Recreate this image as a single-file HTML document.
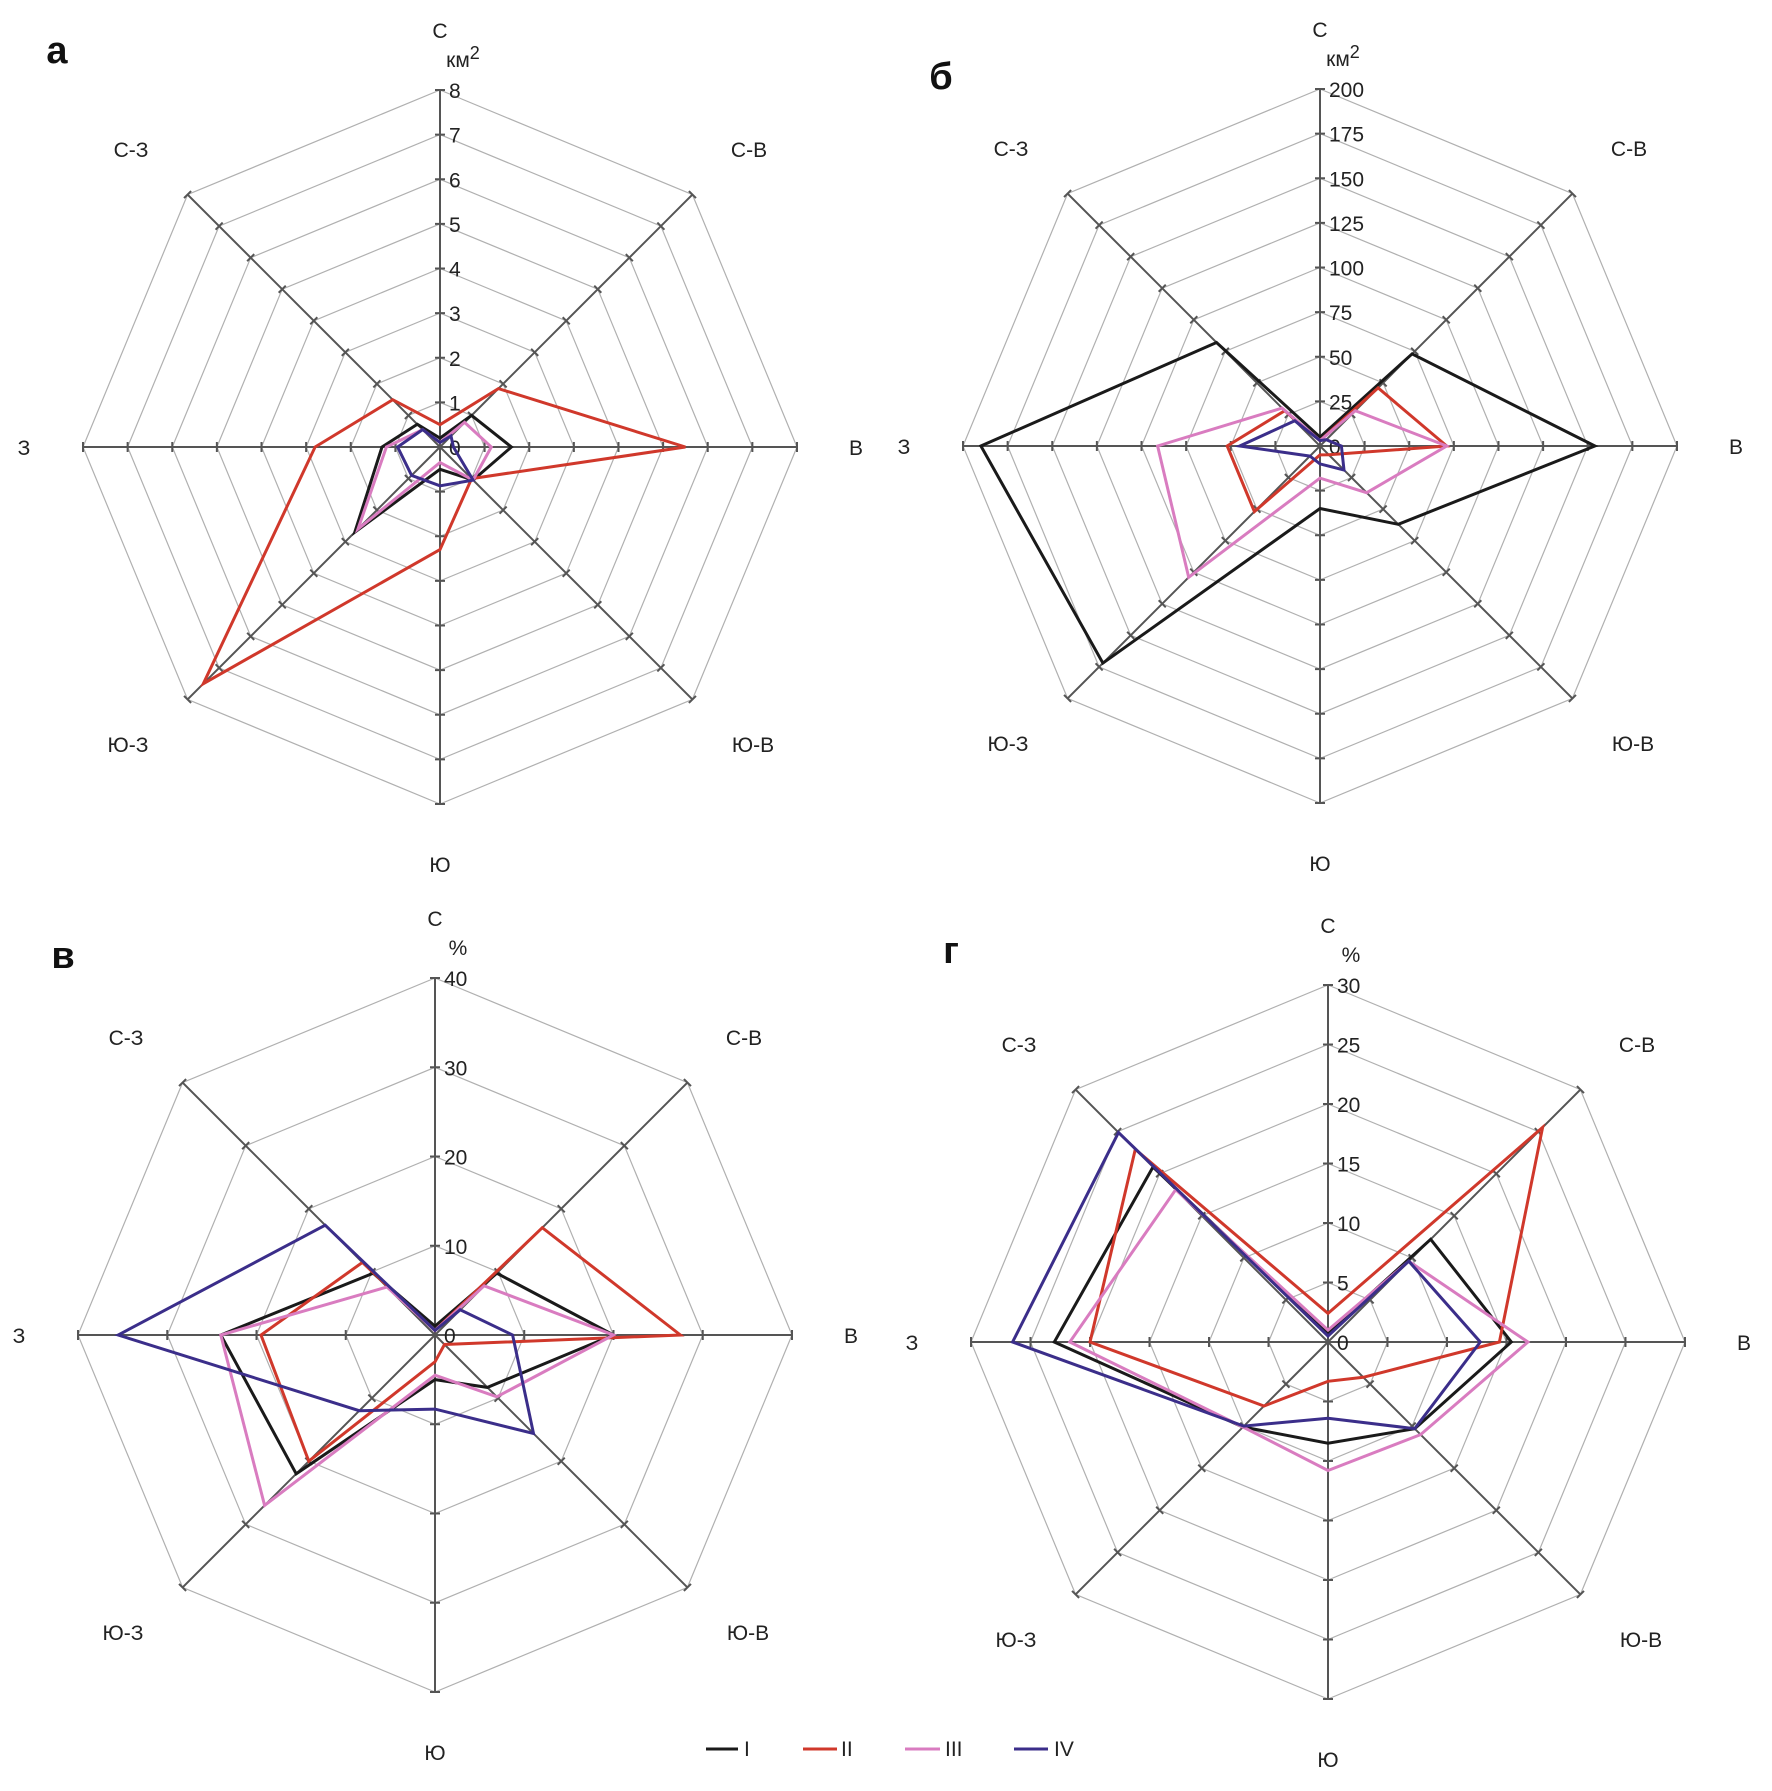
<!DOCTYPE html><html><head><meta charset="utf-8"><style>body{margin:0;background:#fff}svg{display:block}</style></head><body>
<svg id="s" width="1772" height="1791" xmlns="http://www.w3.org/2000/svg" font-family="Liberation Sans, sans-serif"></svg>
<script>
const S=document.getElementById('s');let h='';
const R=357;
const cols=['#1a1a1a','#d0382b','#d97cc0','#3b2e8a'];
function chart(cx,cy,max,step,unit,letter,lx,ly,data){
 const n=max/step;
 const ang=i=>(-90+45*i)*Math.PI/180;
 const P=(i,r)=>[cx+r*Math.cos(ang(i)),cy+r*Math.sin(ang(i))];
 for(let k=1;k<=n;k++){let r=R*k/n;let pts=[];for(let i=0;i<8;i++)pts.push(P(i,r).map(v=>v.toFixed(1)).join(','));
  h+=`<polygon points="${pts.join(' ')}" fill="none" stroke="#b0b0b0" stroke-width="1.2"/>`;}
 for(let i=0;i<8;i++){let e=P(i,R);h+=`<line x1="${cx}" y1="${cy}" x2="${e[0]}" y2="${e[1]}" stroke="#555" stroke-width="2"/>`;
  for(let k=1;k<=n;k++){let p=P(i,R*k/n);let a=ang(i)+Math.PI/2;let dx=5*Math.cos(a),dy=5*Math.sin(a);
   h+=`<line x1="${p[0]-dx}" y1="${p[1]-dy}" x2="${p[0]+dx}" y2="${p[1]+dy}" stroke="#555" stroke-width="2"/>`;}}
 for(let k=0;k<=n;k++)h+=`<text x="${cx+9}" y="${cy-R*k/n+8}" font-size="21" fill="#222">${k*step}</text>`;
 data.forEach((d,j)=>{let pts=d.map((v,i)=>P(i,R*v/max).map(x=>x.toFixed(1)).join(','));
  h+=`<polygon points="${pts.join(' ')}" fill="none" stroke="${cols[j]}" stroke-width="3" stroke-linejoin="miter"/>`;});
 const L=[['С',0,-417],['С-В',309,-298],['В',416,0],['Ю-В',313,297],['Ю',0,417],['Ю-З',-312,297],['З',-416,0],['С-З',-309,-298]];
 L.forEach(l=>h+=`<text x="${cx+l[1]}" y="${cy+l[2]+8}" font-size="21" text-anchor="middle" fill="#222">${l[0]}</text>`);
 h+=`<text x="${cx+23}" y="${cy-380}" font-size="21" text-anchor="middle" fill="#222">${unit}</text>`;
 h+=`<text x="${lx}" y="${ly}" font-size="38" font-weight="bold" text-anchor="middle" fill="#111">${letter}</text>`;
}
chart(440,447,8,1,'км<tspan dy="-8" font-size="18">2</tspan>','а',57,63,[
 [0.2,1.0,1.6,1.05,0.5,2.7,1.3,0.72],
 [0.5,1.85,5.5,1.0,2.3,7.5,2.8,1.5],
 [0.1,0.78,1.15,1.05,0.35,2.6,1.2,0.55],
 [0.1,0.35,0.3,1.05,0.87,0.9,0.95,0.55]]);
chart(1320,446,200,25,'км<tspan dy="-8" font-size="18">2</tspan>','б',941,89,[
 [5,73,154,62,35,172,190,82],
 [3,46,71,7,5,52,52,28],
 [3,28,71,37,18,104,91,30],
 [3,5,12,19,10,8,45,20]]);
chart(435,1335,40,10,'%','в',63,968,[
 [1,9.8,20,8.3,5,22,24,9.8],
 [0.5,17,27.5,1.5,3,20,19.5,11.5],
 [0.5,7.8,20,9.8,4.5,27,24,7.6],
 [0.5,4,8.7,15.6,8.3,12,35.5,17.4]]);
chart(1328,1342,30,5,'%','г',951,963,[
 [0.8,12.2,15.4,10.3,8.5,10.1,23,20.8],
 [2.4,25.5,14.4,4.2,3.3,7.6,20,22.9],
 [1,9.6,16.8,11,10.8,10.1,21.7,18.1],
 [0.5,9.6,12.8,10.3,6.4,10,26.5,24.9]]);
const lg=[[706,738,744,'I'],[803,837,841,'II'],[905,940,945,'III'],[1014,1048,1054,'IV']];
lg.forEach((l,j)=>{h+=`<line x1="${l[0]}" y1="1749" x2="${l[1]}" y2="1749" stroke="${cols[j]}" stroke-width="3"/><text x="${l[2]}" y="1756" font-size="21" fill="#222">${l[3]}</text>`;});
S.innerHTML=h;
</script></body></html>
